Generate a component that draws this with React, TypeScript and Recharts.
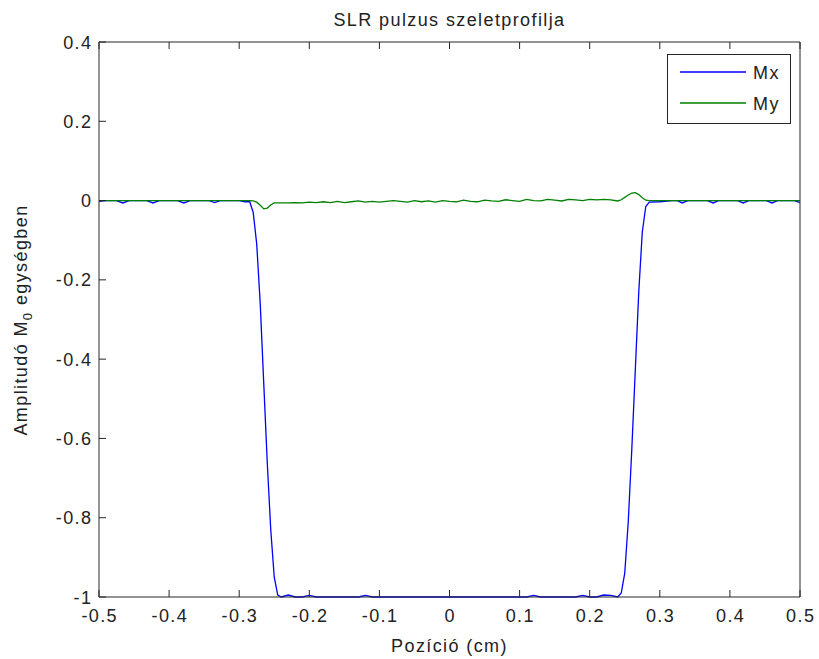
import React from 'react';
import { LineChart, Line, XAxis, YAxis, Legend } from 'recharts';

const positions = [
  -0.5, -0.49, -0.475, -0.466, -0.457, -0.44, -0.432, -0.423, -0.414, -0.395,
  -0.388, -0.379, -0.37, -0.35, -0.343, -0.335, -0.327, -0.31, -0.3, -0.292,
  -0.285, -0.28, -0.275, -0.27, -0.265, -0.26, -0.255, -0.25, -0.245, -0.24,
  -0.23, -0.22, -0.21, -0.2, -0.19, -0.18, -0.17, -0.16, -0.15, -0.14,
  -0.13, -0.12, -0.11, -0.1, -0.09, -0.08, -0.07, -0.06, -0.05, -0.04,
  -0.03, -0.02, -0.01, 0, 0.01, 0.02, 0.03, 0.04, 0.05, 0.06,
  0.07, 0.08, 0.09, 0.1, 0.11, 0.12, 0.13, 0.14, 0.15, 0.16,
  0.17, 0.18, 0.19, 0.2, 0.21, 0.22, 0.23, 0.24, 0.245, 0.25,
  0.255, 0.26, 0.265, 0.27, 0.275, 0.28, 0.285, 0.3, 0.318, 0.325,
  0.332, 0.34, 0.362, 0.368, 0.376, 0.384, 0.405, 0.411, 0.419, 0.427,
  0.445, 0.452, 0.46, 0.468, 0.485, 0.492, 0.5,
];

const mxValues = [
  -0.002, 0, 0, -0.006, 0, 0, 0, -0.006, 0, 0,
  0, -0.006, 0, 0, 0, -0.005, 0, 0, 0, -0.003,
  -0.003, -0.03, -0.11, -0.26, -0.46, -0.66, -0.83, -0.95, -0.995, -1,
  -0.995, -1, -1, -0.996, -1, -1, -1, -1, -1, -1,
  -1, -0.996, -1, -1, -1, -1, -1, -1, -1, -1,
  -1, -1, -1, -1, -1, -1, -1, -1, -1, -1,
  -1, -1, -1, -1, -1, -0.996, -1, -1, -1, -1,
  -1, -1, -0.996, -1, -1, -0.995, -0.996, -1, -0.99, -0.94,
  -0.81, -0.63, -0.43, -0.23, -0.08, -0.015, -0.004, -0.003, 0, 0,
  -0.006, 0, 0, 0, -0.006, 0, 0, 0, -0.006, 0,
  0, 0, -0.006, 0, 0, 0, -0.005,
];

const myValues = [
  0, 0, 0, 0, 0, 0, 0, 0, 0, 0,
  0, 0, 0, 0, 0, 0, 0, 0, 0, 0,
  0, -0.001, -0.004, -0.012, -0.021, -0.019, -0.011, -0.006, -0.006, -0.006,
  -0.006, -0.005, -0.006, -0.004, -0.005, -0.003, -0.005, -0.002, -0.005, -0.003,
  -0.001, -0.004, -0.002, -0.004, -0.002, 0, -0.002, -0.004, 0, -0.003,
  -0.001, -0.004, 0, -0.002, -0.003, 0.001, -0.002, -0.003, 0.001, -0.001,
  -0.002, 0.002, 0, -0.002, 0.003, 0, -0.001, 0.003, 0.001, -0.001,
  0.003, 0.002, 0, 0.003, 0.002, 0.003, 0.002, -0.001, 0.002, 0.008,
  0.014, 0.019, 0.02, 0.015, 0.007, 0.001, 0, 0, 0, 0,
  0, 0, 0, 0, 0, 0, 0, 0, 0, 0,
  0, 0, 0, 0, 0, 0, 0,
];

const xTicks = [-0.5, -0.4, -0.3, -0.2, -0.1, 0, 0.1, 0.2, 0.3, 0.4, 0.5];
const yTicks = [-1, -0.8, -0.6, -0.4, -0.2, 0, 0.2, 0.4];
const seriesNames = ['Mx', 'My'];
const seriesColors = ['#0000ff', '#008000'];

const data = positions.map((x, i) => ({ x, mx: mxValues[i], my: myValues[i] }));

const FONT = '"Liberation Sans", Arial, Helvetica, sans-serif';
const FS = 18;
const LS = 1.4;
const AXIS = '#262626';
const TICK_LEN = 7;

const BottomTick = (props: any) => {
  const { x, y, payload } = props;
  return (
    <g>
      <line x1={x} y1={y} x2={x} y2={y - TICK_LEN} stroke={AXIS} strokeWidth={1} />
      <text x={x + LS / 2} y={y + 25} textAnchor="middle" fontFamily={FONT} fontSize={FS} letterSpacing={LS} fill="#222">
        {String(payload.value)}
      </text>
    </g>
  );
};

const TopTick = (props: any) => {
  const { x, y } = props;
  return <line x1={x} y1={y} x2={x} y2={y + TICK_LEN} stroke={AXIS} strokeWidth={1} />;
};

const LeftTick = (props: any) => {
  const { x, y, payload } = props;
  return (
    <g>
      <line x1={x} y1={y} x2={x + TICK_LEN} y2={y} stroke={AXIS} strokeWidth={1} />
      <text x={x - 8 + LS} y={y + 6.5} textAnchor="end" fontFamily={FONT} fontSize={FS} letterSpacing={LS} fill="#222">
        {String(payload.value)}
      </text>
    </g>
  );
};

const RightTick = (props: any) => {
  const { x, y } = props;
  return <line x1={x} y1={y} x2={x - TICK_LEN} y2={y} stroke={AXIS} strokeWidth={1} />;
};

const LegendBox = () => (
  <svg width={124} height={70} style={{ display: 'block' }}>
    <rect x={0.5} y={0.5} width={123} height={69} fill="#fff" stroke={AXIS} strokeWidth={1} />
    {seriesNames.map((name, i) => (
      <g key={name}>
        <line x1={13} y1={18 + i * 31} x2={79} y2={18 + i * 31} stroke={seriesColors[i]} strokeWidth={1.3} />
        <text x={86} y={24.5 + i * 31} fontFamily={FONT} fontSize={FS} letterSpacing={LS} fill="#222">
          {name}
        </text>
      </g>
    ))}
  </svg>
);

const TitleLabel = () => (
  <text x={449.5} y={26} textAnchor="middle" fontFamily={FONT} fontSize={FS} letterSpacing={LS} fill="#222">
    SLR pulzus szeletprofilja
  </text>
);

const XLabel = () => (
  <text x={449.5} y={652} textAnchor="middle" fontFamily={FONT} fontSize={FS} letterSpacing={LS} fill="#222">
    Pozíció (cm)
  </text>
);

const YLabel = () => (
  <text x={27} y={320} transform="rotate(-90 27 320)" textAnchor="middle" fontFamily={FONT} fontSize={FS} letterSpacing={LS} fill="#222">
    Amplitudó M<tspan fontSize={13} dy={5}>0</tspan><tspan dy={-5}> egységben</tspan>
  </text>
);

export default function App() {
  return (
    <div style={{ position: 'absolute', left: 0, top: 0, width: 819, height: 659, background: '#fff' }}>
      <LineChart width={819} height={659} data={data} margin={{ top: 41, right: 18, bottom: 32, left: 9 }}>
        <XAxis
          dataKey="x"
          type="number"
          domain={[-0.5, 0.5]}
          ticks={xTicks}
          interval={0}
          height={30}
          tickSize={0}
          tickMargin={0}
          tickLine={false}
          tick={<BottomTick />}
          axisLine={{ stroke: AXIS, strokeWidth: 1 }}
          label={<XLabel />}
        />
        <XAxis
          xAxisId="top"
          orientation="top"
          dataKey="x"
          type="number"
          domain={[-0.5, 0.5]}
          ticks={xTicks}
          interval={0}
          height={1}
          tickSize={0}
          tickMargin={0}
          tickLine={false}
          tick={<TopTick />}
          axisLine={{ stroke: AXIS, strokeWidth: 1 }}
          label={<TitleLabel />}
        />
        <YAxis
          type="number"
          domain={[-1, 0.4]}
          ticks={yTicks}
          interval={0}
          width={90}
          tickSize={0}
          tickMargin={0}
          tickLine={false}
          tick={<LeftTick />}
          axisLine={{ stroke: AXIS, strokeWidth: 1 }}
          label={<YLabel />}
        />
        <YAxis
          yAxisId="right"
          orientation="right"
          type="number"
          domain={[-1, 0.4]}
          ticks={yTicks}
          interval={0}
          width={1}
          tickSize={0}
          tickMargin={0}
          tickLine={false}
          tick={<RightTick />}
          axisLine={{ stroke: AXIS, strokeWidth: 1 }}
        />
        <Line type="linear" dataKey="mx" name={seriesNames[0]} stroke={seriesColors[0]} strokeWidth={1.3} dot={false} isAnimationActive={false} />
        <Line type="linear" dataKey="my" name={seriesNames[1]} stroke={seriesColors[1]} strokeWidth={1.3} dot={false} isAnimationActive={false} />
        <Legend
          layout="horizontal"
          verticalAlign="middle"
          align="center"
          content={<LegendBox />}
          wrapperStyle={{ position: 'absolute', left: 667, top: 54, width: 124, height: 70, margin: 0, padding: 0 }}
        />
      </LineChart>
    </div>
  );
}
